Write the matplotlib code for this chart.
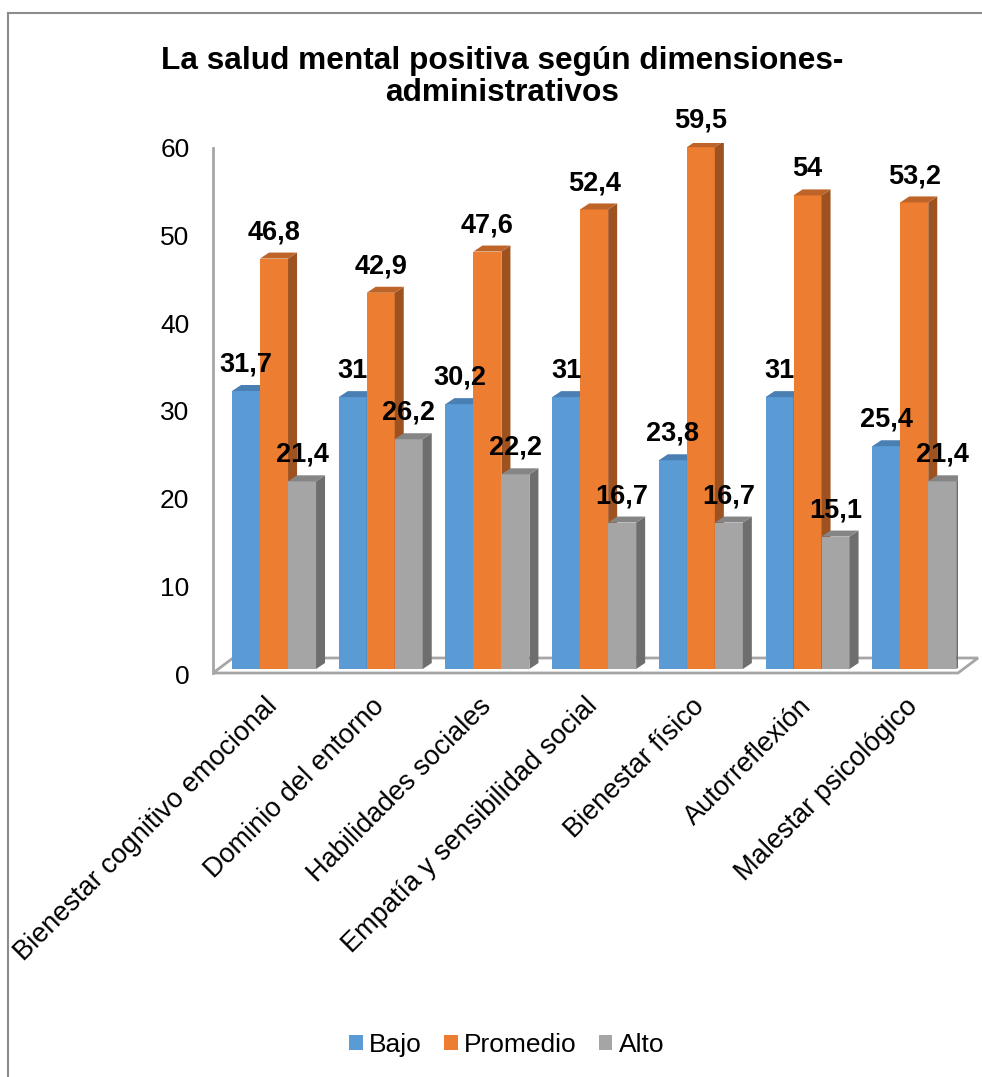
import matplotlib
matplotlib.use("Agg")
import matplotlib.pyplot as plt
import matplotlib.transforms as mtransforms
from matplotlib.patches import Polygon, Patch
from matplotlib.lines import Line2D

plt.rcParams['font.family'] = ['Liberation Sans', 'DejaVu Sans']

categorias = ["Bienestar cognitivo emocional", "Dominio del entorno", "Habilidades sociales",
              "Empatía y sensibilidad social", "Bienestar físico", "Autorreflexión",
              "Malestar psicológico"]
bajo = [31.7, 31, 30.2, 31, 23.8, 31, 25.4]
promedio = [46.8, 42.9, 47.6, 52.4, 59.5, 54, 53.2]
alto = [21.4, 26.2, 22.2, 16.7, 16.7, 15.1, 21.4]
series = ["Bajo", "Promedio", "Alto"]
yticks = [0, 10, 20, 30, 40, 50, 60]

# front, top, side colours
colores = [("#5B9BD5", "#4A7FB3", "#41719C"),
           ("#ED7D31", "#BE6428", "#9E5220"),
           ("#A5A5A5", "#858585", "#6E6E6E")]

W, H = 982, 1077
fig = plt.figure(figsize=(W / 100, H / 100), dpi=100)
ax = fig.add_axes([213 / W, (H - 669) / H, 745 / W, 526.2 / H])
x0, x1 = -0.572, 6.41
ax.set_xlim(x0, x1)
ax.set_ylim(0, 60)

ppx = 745 / (x1 - x0)
ppy = 526.2 / 60
dx, dy = 9 / ppx, 6 / ppy
bw = 28 / ppx

# floor
fx, fy = 20 / ppx, 15 / ppy
piso = Polygon([(x0, -4 / ppy), (x1, -4 / ppy), (x1 + fx, -4 / ppy + fy), (x0 + fx, -4 / ppy + fy)],
               closed=True, facecolor="white", edgecolor="#A6A6A6", lw=2, zorder=1, clip_on=False)
ax.add_patch(piso)
ax.plot([x0, x0], [-4 / ppy, 59.4], color="#A6A6A6", lw=2, clip_on=False, zorder=2)

pos = list(range(len(categorias)))
for k, vals in enumerate([bajo, promedio, alto]):
    front, top, side = colores[k]
    xs = [p + (k - 1) * bw for p in pos]
    bars = ax.bar(xs, vals, width=bw, color=front, zorder=3 + k, lw=0)
    for r, v in zip(bars, vals):
        bx, w, h = r.get_x(), r.get_width(), r.get_height()
        ax.add_patch(Polygon([(bx + w, 0), (bx + w + dx, dy), (bx + w + dx, h + dy), (bx + w, h)],
                             closed=True, facecolor=side, lw=0, zorder=3 + k))
        ax.add_patch(Polygon([(bx, h), (bx + dx, h + dy), (bx + w + dx, h + dy), (bx + w, h)],
                             closed=True, facecolor=top, lw=0, zorder=3 + k))
        ax.annotate(f"{v:g}".replace(".", ","), (bx + w / 2, h), xytext=(0, 19),
                    textcoords="offset points", ha="center", va="center",
                    fontsize=19.5, fontweight="bold", zorder=10, annotation_clip=False)

for s in ax.spines.values():
    s.set_visible(False)
ax.set_yticks(yticks)
ax.set_yticklabels([str(t) for t in yticks], fontsize=19)
ax.tick_params(axis="y", length=0, pad=17)
off = mtransforms.ScaledTranslation(0, -5 / 100, fig.dpi_scale_trans)
for lbl in ax.get_yticklabels():
    lbl.set_transform(lbl.get_transform() + off)
ax.set_xticks(pos)
ax.set_xticklabels(categorias, fontsize=19.5, rotation=45, ha="right", va="center",
                   rotation_mode="anchor")
ax.tick_params(axis="x", length=0, pad=24)

fig.text(502 / W, 1 - 77 / H, "La salud mental positiva según dimensiones-\nadministrativos",
         ha="center", va="center", fontsize=22.8, fontweight="bold", linespacing=1.12)

handles = [Patch(facecolor=c[0]) for c in colores]
fig.legend(handles, series, loc="center", bbox_to_anchor=(507 / W, 1 - 1045 / H), ncol=3,
           frameon=False, fontsize=19, handlelength=0.5, handleheight=0.5,
           handletextpad=0.25, columnspacing=0.85)

# outer frame
fig.add_artist(Line2D([8 / W, 8 / W], [0, 1 - 13 / H], transform=fig.transFigure,
                      color="#8C8C8C", lw=1.5))
fig.add_artist(Line2D([8 / W, 1], [1 - 13 / H, 1 - 13 / H], transform=fig.transFigure,
                      color="#8C8C8C", lw=1.5))

fig.savefig("out.png", dpi=100)
